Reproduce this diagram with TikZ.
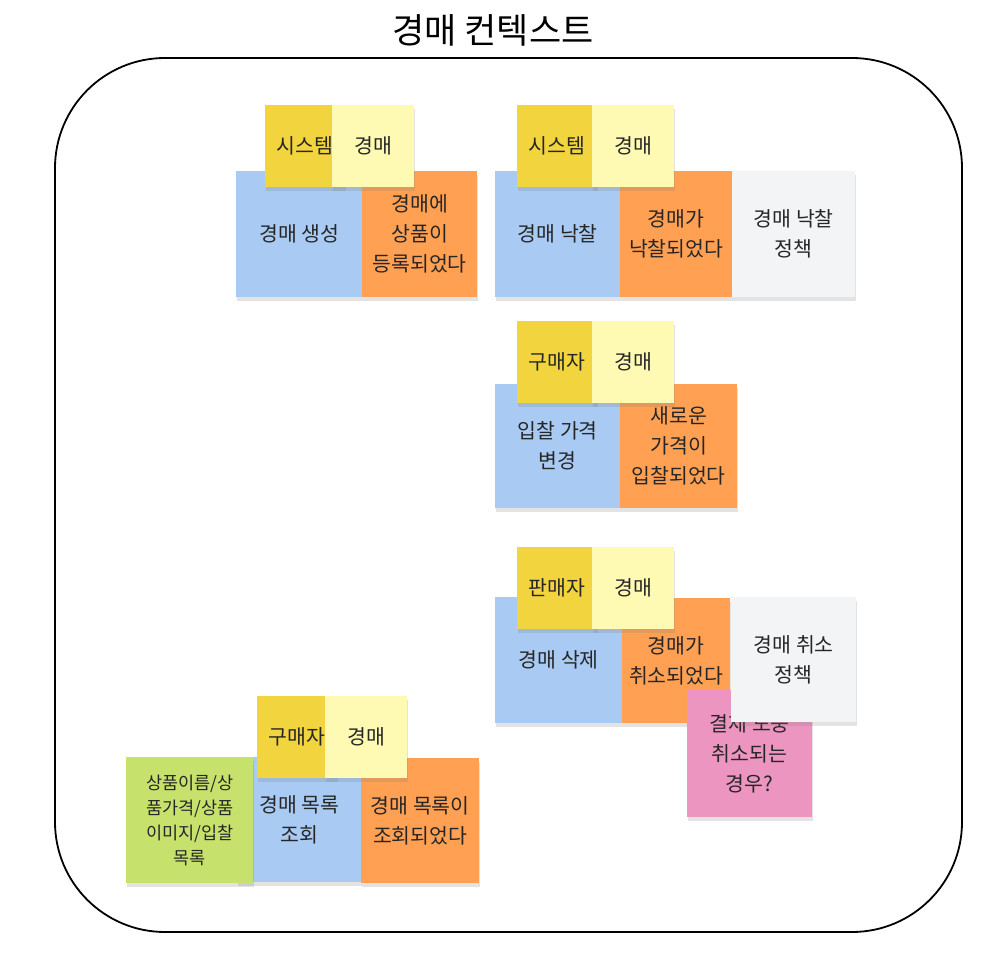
\documentclass[tikz,border=0pt]{standalone}
\usepackage{fontspec}
\setmainfont{Noto Sans CJK KR}
\usetikzlibrary{shadows}

\definecolor{actorY}{HTML}{F2D43E}
\definecolor{aggY}{HTML}{FEF9B3}
\definecolor{cmdB}{HTML}{A9CBF3}
\definecolor{evtO}{HTML}{FFA052}
\definecolor{polW}{HTML}{F3F4F6}
\definecolor{hotP}{HTML}{EB95C0}
\definecolor{readG}{HTML}{C6E26C}
\newcommand\notefont{\fontsize{20.5}{30}\selectfont}

\begin{document}
\begin{tikzpicture}[x=1pt, y=-1pt,
    note/.style={anchor=north west, inner sep=0pt, align=center, font=\notefont,
                 text=black!85, drop shadow={shadow xshift=1pt, shadow yshift=-4pt, opacity=0.22}},
    sz/.style 2 args={minimum width=#1pt, minimum height=#2pt}]
  \useasboundingbox (0,0) rectangle (993,973);

  % --- 제목과 경계 ---
  \node[font=\fontsize{35}{40}\selectfont] (title) at (493,30) {경매 컨텍스트};
  \draw[line width=1.8pt, rounded corners=110pt] (55,58) rectangle (962,932);

  % --- 경매 생성 ---
  \node[note, fill=cmdB, sz={126}{126}] (cmd1) at (236,171) {경매 생성};
  \node[note, fill=evtO, sz={115}{126}] (evt1) at (362,171) {경매에\\상품이\\등록되었다};

  % --- 경매 낙찰 ---
  \node[note, fill=cmdB, sz={125}{126}] (cmd2) at (495,171) {경매 낙찰};
  \node[note, fill=evtO, sz={112}{126}] (evt2) at (620,171) {경매가\\낙찰되었다};
  \node[note, fill=polW, sz={123}{126}] (pol2) at (732,171) {경매 낙찰\\정책};

  % --- 입찰 가격 변경 ---
  \node[note, fill=cmdB, sz={125}{124}] (cmd3) at (495,384) {입찰 가격\\변경};
  \node[note, fill=evtO, sz={117}{124}] (evt3) at (620,384) {새로운\\가격이\\입찰되었다};

  % --- 경매 삭제 (핫스팟은 정책 아래) ---
  \node[note, fill=cmdB, sz={127}{126}] (cmd4) at (495,597) {경매 삭제};
  \node[note, fill=evtO, sz={108}{125}] (evt4) at (622,598) {경매가\\취소되었다};
  \node[note, fill=hotP, sz={125}{127}] (hot4) at (687,690) {결제 도중\\취소되는\\경우?};
  \node[note, fill=polW, sz={125}{125}] (pol4) at (731,597) {경매 취소\\정책};

  % --- 경매 목록 조회 ---
  \node[note, fill=cmdB, sz={124}{125}] (cmd5) at (237,757) {경매 목록\\조회};
  \node[note, fill=readG, sz={127}{126}, font=\fontsize{17.5}{25}\selectfont] (read5) at (126,757)
       {상품이름/상\\품가격/상품\\이미지/입찰\\목록};
  \node[note, fill=evtO, sz={118}{125}] (evt5) at (361,758) {경매 목록이\\조회되었다};

  % --- 액터 + 애그리거트 (맨 위) ---
  \foreach \n/\x/\y/\gap/\who in {1/265/105/67/시스템, 2/517/105/75/시스템,
                                 3/517/321/75/구매자, 4/517/547/75/판매자,
                                 5/257/696/68/구매자} {
    \node[note, fill=actorY, sz={80}{82}] (actor\n) at (\x,\y) {\who};
    \node[note, fill=aggY, sz={82}{82}] (agg\n) at (\x+\gap,\y) {경매};
  }
\end{tikzpicture}
\end{document}
